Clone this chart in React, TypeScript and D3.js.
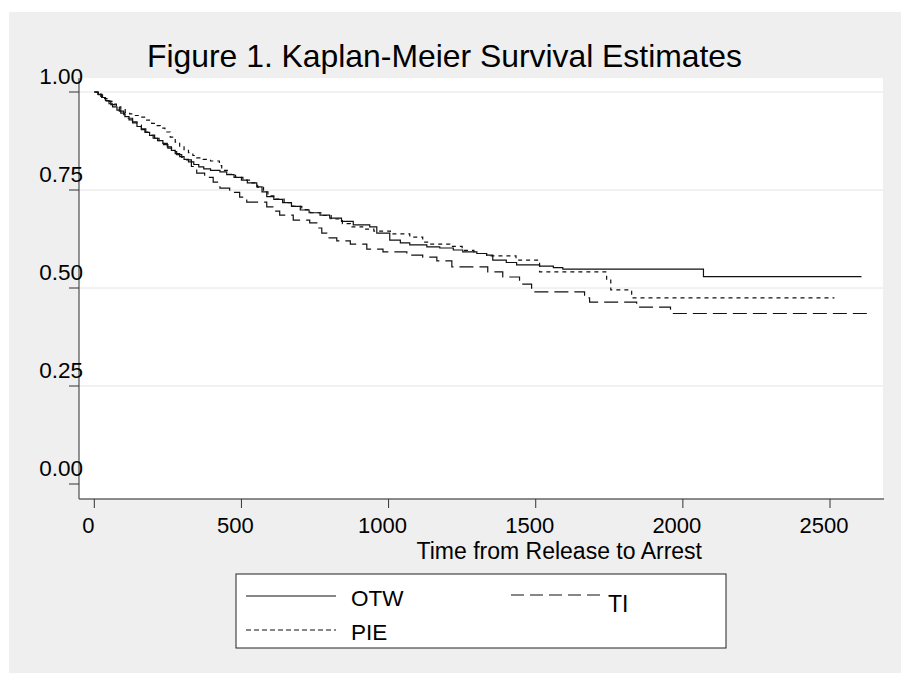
import React from "react";
import * as d3 from "d3";

// Kaplan-Meier step points: [time, survival]
const otw: [number, number][] = [
  [0, 1.0], [12, 0.994], [25, 0.986], [38, 0.978], [50, 0.97], [62, 0.962], [77, 0.954], [90, 0.946],
  [104, 0.937], [118, 0.929], [130, 0.921], [145, 0.912], [160, 0.904], [172, 0.897], [188, 0.889],
  [200, 0.882], [215, 0.876], [233, 0.869], [248, 0.86], [262, 0.851], [275, 0.843], [290, 0.835],
  [305, 0.828], [320, 0.822], [338, 0.815], [355, 0.809], [372, 0.804], [395, 0.8], [427, 0.796],
  [450, 0.789], [475, 0.782], [500, 0.775], [520, 0.768], [552, 0.758], [570, 0.745], [586, 0.733],
  [610, 0.726], [640, 0.718], [670, 0.708], [700, 0.699], [730, 0.692], [767, 0.686], [800, 0.678],
  [840, 0.67], [880, 0.661], [936, 0.656], [960, 0.64], [1004, 0.622], [1040, 0.615], [1072, 0.61],
  [1130, 0.605], [1174, 0.602], [1220, 0.597], [1252, 0.592], [1300, 0.588], [1333, 0.584],
  [1354, 0.571], [1400, 0.565], [1435, 0.559], [1513, 0.556], [1560, 0.552], [1592, 0.548],
  [2070, 0.529], [2607, 0.529],
];

const pie: [number, number][] = [
  [0, 1.0], [10, 0.995], [22, 0.989], [35, 0.983], [48, 0.976], [60, 0.969], [75, 0.962], [90, 0.955],
  [105, 0.948], [120, 0.944], [135, 0.94], [155, 0.936], [175, 0.928], [195, 0.92], [210, 0.914],
  [224, 0.908], [240, 0.898], [258, 0.885], [275, 0.872], [290, 0.862], [305, 0.853], [320, 0.845],
  [335, 0.838], [348, 0.832], [370, 0.828], [395, 0.824], [425, 0.812], [433, 0.8], [455, 0.79],
  [480, 0.782], [505, 0.775], [530, 0.768], [555, 0.757], [575, 0.745], [590, 0.735], [615, 0.727],
  [645, 0.718], [675, 0.708], [705, 0.7], [735, 0.692], [770, 0.685], [805, 0.676], [843, 0.664],
  [870, 0.656], [912, 0.65], [950, 0.645], [1006, 0.638], [1072, 0.63], [1116, 0.617], [1140, 0.612],
  [1208, 0.606], [1250, 0.596], [1290, 0.588], [1333, 0.582], [1433, 0.571], [1513, 0.541],
  [1741, 0.52], [1755, 0.495], [1826, 0.475], [2515, 0.475],
];

const ti: [number, number][] = [
  [0, 1.0], [14, 0.993], [28, 0.985], [42, 0.977], [56, 0.968], [70, 0.96], [85, 0.951], [100, 0.942],
  [115, 0.933], [130, 0.924], [145, 0.916], [160, 0.906], [175, 0.898], [190, 0.89], [205, 0.882],
  [220, 0.874], [235, 0.866], [250, 0.857], [265, 0.848], [280, 0.84], [297, 0.833], [314, 0.827],
  [330, 0.81], [348, 0.793], [375, 0.782], [404, 0.77], [427, 0.755], [460, 0.744], [494, 0.732],
  [518, 0.719], [586, 0.707], [610, 0.696], [630, 0.686], [676, 0.673], [732, 0.666], [756, 0.653],
  [773, 0.64], [790, 0.628], [824, 0.62], [870, 0.612], [926, 0.599], [981, 0.592], [1062, 0.584],
  [1116, 0.579], [1164, 0.569], [1215, 0.554], [1337, 0.541], [1388, 0.528], [1445, 0.51],
  [1486, 0.49], [1666, 0.475], [1683, 0.464], [1843, 0.451], [1958, 0.435], [2627, 0.435],
];

const xTicks = [0, 500, 1000, 1500, 2000, 2500];
const yTicks = [0, 0.25, 0.5, 0.75, 1.0];
const gridTicks = [0.25, 0.5, 0.75, 1.0];

const title = "Figure 1. Kaplan-Meier Survival Estimates";
const xTitle = "Time from Release to Arrest";

const FONT = "'Liberation Sans', Arial, Helvetica, sans-serif";

export default function App() {
  const x = d3.scaleLinear().domain([0, 2500]).range([94.3, 830]);
  const y = d3.scaleLinear().domain([0, 1]).range([484, 92]);
  const plot = { left: 79, top: 78, right: 883, bottom: 499 };

  const line = d3
    .line<[number, number]>()
    .x((d) => x(d[0]))
    .y((d) => y(d[1]))
    .curve(d3.curveStepAfter);

  const series = [
    { name: "OTW", data: otw, dash: "none" },
    { name: "PIE", data: pie, dash: "4,4" },
    { name: "TI", data: ti, dash: "14,6" },
  ];

  return (
    <svg
      width={901}
      height={673}
      style={{ position: "absolute", left: 0, top: 0, background: "#fff" }}
      fontFamily={FONT}
    >
      <rect x={9} y={12} width={892} height={661} fill="#efefef" />
      <rect
        x={plot.left}
        y={plot.top}
        width={plot.right - plot.left}
        height={plot.bottom - plot.top}
        fill="#fff"
      />
      {gridTicks.map((t) => (
        <line
          key={"g" + t}
          x1={plot.left}
          x2={plot.right}
          y1={y(t)}
          y2={y(t)}
          stroke="#e4e4e4"
          strokeWidth={1}
        />
      ))}
      {series.map((s) => (
        <path
          key={s.name}
          d={line(s.data) || ""}
          fill="none"
          stroke="#111"
          strokeWidth={1.2}
          strokeDasharray={s.dash}
        />
      ))}
      {/* axes */}
      <line x1={plot.left} x2={plot.left} y1={plot.top} y2={plot.bottom} stroke="#666" strokeWidth={1.4} />
      <line x1={plot.left} x2={plot.right + 1} y1={plot.bottom} y2={plot.bottom} stroke="#666" strokeWidth={1.4} />
      {yTicks.map((t) => (
        <g key={"y" + t}>
          <line x1={69} x2={plot.left} y1={y(t)} y2={y(t)} stroke="#333" strokeWidth={1} />
          <text x={83} y={y(t) - 8.5} textAnchor="end" fontSize={22.5} fill="#000">
            {d3.format(".2f")(t)}
          </text>
        </g>
      ))}
      {xTicks.map((t) => (
        <g key={"x" + t}>
          <line x1={x(t)} x2={x(t)} y1={plot.bottom} y2={508} stroke="#333" strokeWidth={1} />
          <text x={x(t) - 6} y={533} textAnchor="middle" fontSize={22} fill="#000">
            {t}
          </text>
        </g>
      ))}
      <text x={702} y={559} textAnchor="end" fontSize={23} fill="#000">
        {xTitle}
      </text>
      <text x={147} y={67} fontSize={31.5} fill="#000" textLength={595} lengthAdjust="spacingAndGlyphs">
        {title}
      </text>
      {/* legend */}
      <rect x={236} y={574} width={490} height={74} fill="#fff" stroke="#222" strokeWidth={1} />
      <line x1={246} x2={336} y1={596} y2={596} stroke="#111" strokeWidth={1.2} />
      <text x={351} y={606} fontSize={22.5}>OTW</text>
      <line x1={246} x2={336} y1={630} y2={630} stroke="#111" strokeWidth={1.2} strokeDasharray="5,3" />
      <text x={351} y={640} fontSize={22.5}>PIE</text>
      <line x1={511} x2={600} y1={595} y2={595} stroke="#111" strokeWidth={1.2} strokeDasharray="13,6" />
      <text x={608} y={612} fontSize={23}>TI</text>
    </svg>
  );
}
